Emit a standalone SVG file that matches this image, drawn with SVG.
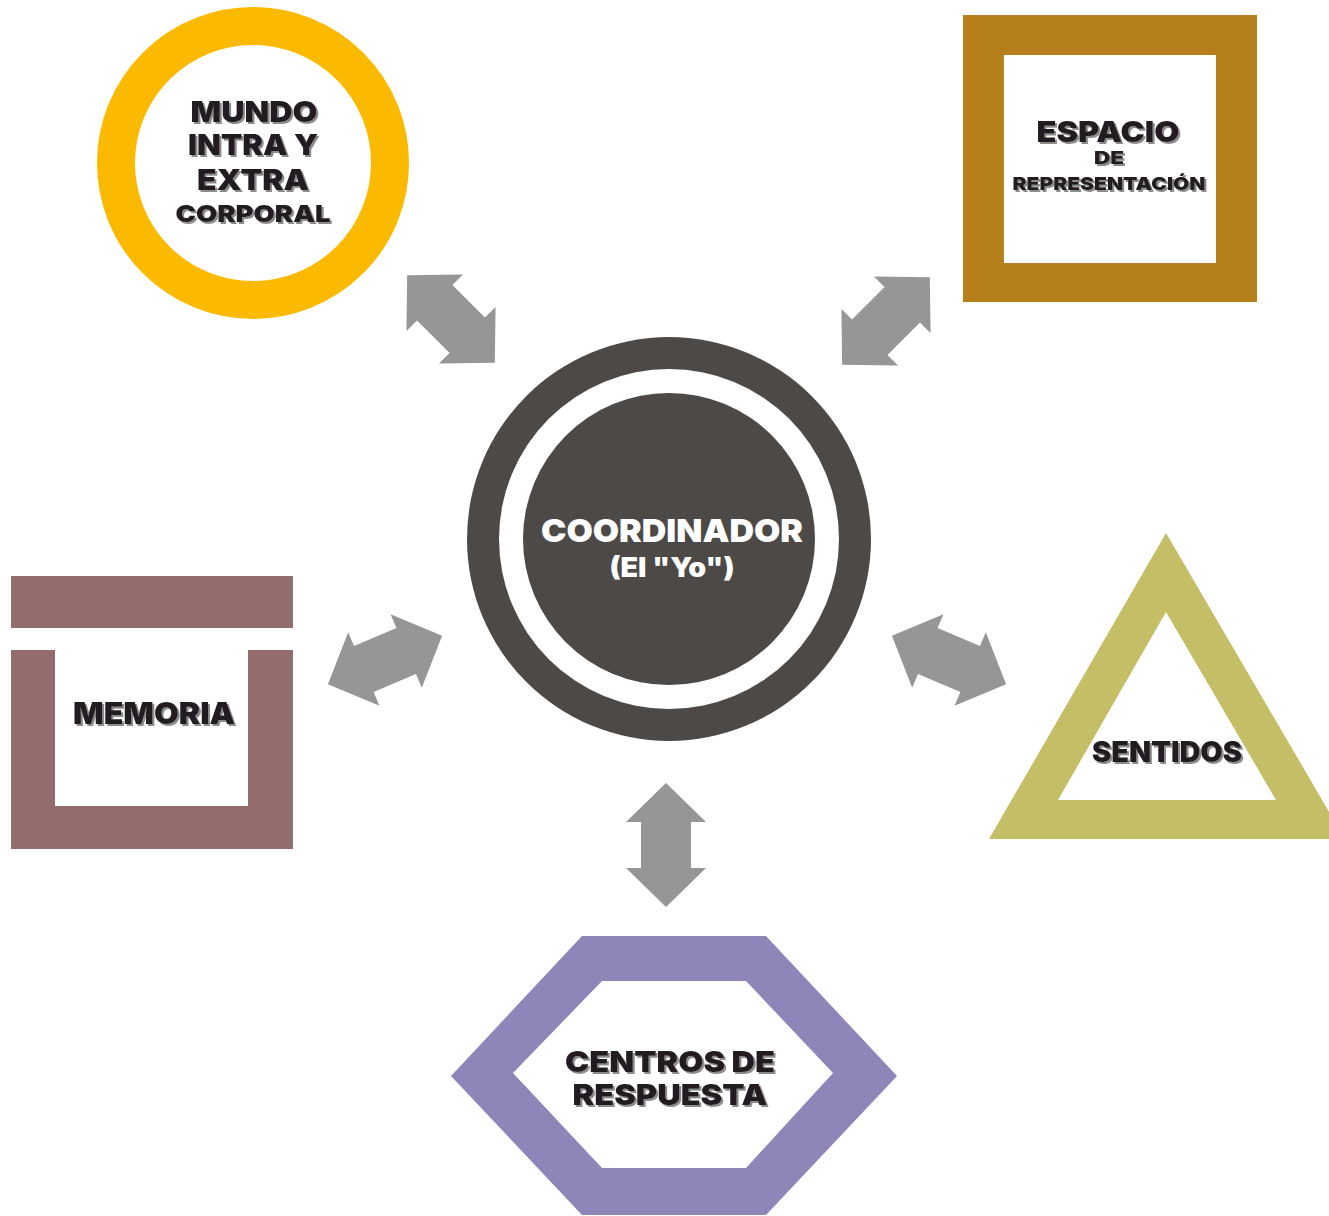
<svg xmlns="http://www.w3.org/2000/svg" width="1329" height="1216" viewBox="0 0 1329 1216">
<defs>
<style>
.t{font-family:Inter,"Open Sans","Liberation Sans",sans-serif;font-weight:900;text-anchor:middle;fill:#231f20;filter:url(#sh)}
.w{font-family:Inter,"Open Sans","Liberation Sans",sans-serif;font-weight:900;text-anchor:middle;fill:#ffffff}
.arr{fill:#979595}
</style>
<filter id="sh" x="-10%" y="-30%" width="120%" height="160%">
<feDropShadow dx="2" dy="2" stdDeviation="0.6" flood-color="#8c8c8c" flood-opacity="1"/>
</filter>
<polygon id="darr" points="-62,0 -23,-40 -23,-25 23,-25 23,-40 62,0 23,40 23,25 -23,25 -23,40"/>
</defs>
<rect width="1329" height="1216" fill="#ffffff"/>

<g id="connectors" class="arr">
<use href="#darr" transform="translate(451,319) rotate(45)"/>
<use href="#darr" transform="translate(886,321) rotate(-45)"/>
<use href="#darr" transform="translate(385,660) rotate(-23)"/>
<use href="#darr" transform="translate(949,660) rotate(23)"/>
<use href="#darr" transform="translate(666,845) rotate(90)"/>
</g>

<g id="coordinador">
<circle cx="669" cy="539" r="202" fill="#4d4947"/>
<circle cx="669" cy="539" r="170" fill="#ffffff"/>
<circle cx="669" cy="539" r="146" fill="#4d4947"/>
<text class="w" x="672" y="542" font-size="32" textLength="262" lengthAdjust="spacingAndGlyphs">COORDINADOR</text>
<text class="w" x="672" y="577" font-size="27" textLength="125" lengthAdjust="spacingAndGlyphs">(El "Yo")</text>
</g>

<g id="mundo">
<circle cx="253" cy="163" r="137" fill="#ffffff" stroke="#fbb900" stroke-width="38"/>
<text class="t" x="254" y="122" font-size="29" textLength="127" lengthAdjust="spacingAndGlyphs">MUNDO</text>
<text class="t" x="253" y="155" font-size="29" textLength="130" lengthAdjust="spacingAndGlyphs">INTRA Y</text>
<text class="t" x="253" y="190" font-size="29" textLength="112" lengthAdjust="spacingAndGlyphs">EXTRA</text>
<text class="t" x="253" y="222" font-size="23" textLength="155" lengthAdjust="spacingAndGlyphs">CORPORAL</text>
</g>

<g id="espacio">
<rect x="963" y="15" width="294" height="287" fill="#b5801c"/>
<rect x="1004" y="55" width="212" height="208" fill="#ffffff"/>
<text class="t" x="1108" y="142" font-size="29" textLength="143" lengthAdjust="spacingAndGlyphs">ESPACIO</text>
<text class="t" x="1109" y="164" font-size="17" textLength="30" lengthAdjust="spacingAndGlyphs">DE</text>
<text class="t" x="1109" y="190" font-size="18" textLength="193" lengthAdjust="spacingAndGlyphs">REPRESENTACIÓN</text>
</g>

<g id="memoria">
<rect x="11" y="576" width="282" height="52" fill="#956c6c"/>
<path d="M11,650 H55 V806 H248 V650 H293 V849 H11 Z" fill="#956c6c"/>
<text class="t" x="154" y="724" font-size="30" textLength="162" lengthAdjust="spacingAndGlyphs">MEMORIA</text>
</g>

<g id="sentidos">
<path d="M1166,533 L1345,839 L989,839 Z M1166,612 L1058,800 L1276,800 Z" fill="#c4bf67" fill-rule="evenodd"/>
<text class="t" x="1167" y="762" font-size="28" textLength="150" lengthAdjust="spacingAndGlyphs">SENTIDOS</text>
</g>

<g id="centros">
<path d="M582,936 L766,936 L897,1076 L766,1215 L582,1215 L451,1076 Z M602,981 L513,1073 L602,1168 L746,1168 L833,1073 L746,981 Z" fill="#8f85b8" fill-rule="evenodd"/>
<text class="t" x="670" y="1072" font-size="29" textLength="210" lengthAdjust="spacingAndGlyphs">CENTROS DE</text>
<text class="t" x="670" y="1105" font-size="29" textLength="195" lengthAdjust="spacingAndGlyphs">RESPUESTA</text>
</g>
</svg>
